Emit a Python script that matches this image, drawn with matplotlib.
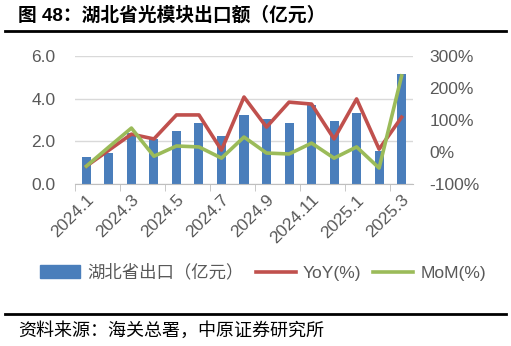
import numpy as np
import matplotlib
matplotlib.use("Agg")
import matplotlib.pyplot as plt
from matplotlib.lines import Line2D
from matplotlib.patches import Patch

plt.rcParams['font.family'] = ['Liberation Sans', 'Noto Sans CJK SC', 'DejaVu Sans']

# data
months = ['2024.1', '2024.2', '2024.3', '2024.4', '2024.5', '2024.6', '2024.7', '2024.8',
          '2024.9', '2024.10', '2024.11', '2024.12', '2025.1', '2025.2', '2025.3']
export_val = [1.27, 1.45, 2.4, 2.1, 2.5, 2.85, 2.25, 3.25, 3.05, 2.88, 3.7, 2.95, 3.35, 1.55, 5.15]
yoy = [-44, 6, 56, 41, 116, 116, 6, 172, 78, 156, 150, 41, 166, 9, 109]
mom = [-44, 16, 75, -13, 19, 16, -19, 47, -3, -6, 28, -19, 16, -50, 238]

blue = '#4A7EBB'
red = '#C0504D'
green = '#9BBB59'
grey = '#595959'
fs = 12.5

fig = plt.figure(figsize=(5.11, 3.46), dpi=100)
ax = fig.add_axes([0.147, 0.468, 0.661, 0.370])
x = np.arange(len(months))

ax.bar(x, export_val, width=0.4, color=blue, zorder=2)
ax.set_ylim(0, 6)
ax.set_yticks([0, 2, 4, 6])
ax.set_yticklabels(['0.0', '2.0', '4.0', '6.0'])
ax.set_xlim(-0.5, len(months) - 0.5)
ax.grid(axis='y', color='#D9D9D9', linewidth=1.0, zorder=0)
for s in ['top', 'left', 'right']:
    ax.spines[s].set_visible(False)
ax.spines['bottom'].set_color('#BFBFBF')
ax.tick_params(axis='y', length=0, labelsize=fs, labelcolor=grey, pad=14)

ax.set_xticks(x[::2])
ax.set_xticklabels(months[::2], rotation=45, ha='right', rotation_mode='anchor')
ax.set_xticks(np.arange(-0.5, len(months) - 1, 2), minor=True)
ax.tick_params(axis='x', which='major', length=0, labelsize=fs, labelcolor=grey, pad=6)
ax.tick_params(axis='x', which='minor', length=5, color='#BFBFBF')

ax2 = ax.twinx()
ax2.plot(x, yoy, color=red, linewidth=2.6, zorder=3)
ax2.plot(x, mom, color=green, linewidth=2.6, zorder=4)
ax2.set_ylim(-100, 300)
ax2.set_yticks([-100, 0, 100, 200, 300])
ax2.set_yticklabels([f'{v}%' for v in [-100, 0, 100, 200, 300]])
for s in ['top', 'left', 'right', 'bottom']:
    ax2.spines[s].set_visible(False)
ax2.tick_params(axis='y', length=0, labelsize=fs, labelcolor=grey, pad=12)

handles = [Patch(color=blue),
           Line2D([], [], color=red, linewidth=2.6),
           Line2D([], [], color=green, linewidth=2.6)]
fig.legend(handles, ['湖北省出口（亿元）', 'YoY(%)', 'MoM(%)'],
           loc='center', bbox_to_anchor=(0.515, 0.213), ncol=3, frameon=False,
           fontsize=fs, labelcolor=grey, handlelength=2.3, handletextpad=0.4,
           columnspacing=0.7)

fig.text(0.035, 0.955, '图 48：湖北省光模块出口额（亿元）', fontsize=13.5, fontweight='bold',
         va='center', ha='left', family=['Liberation Sans', 'Noto Sans CJK SC'])
fig.add_artist(Line2D([0.01, 0.99], [0.91, 0.91], color='black', linewidth=2.0))
fig.add_artist(Line2D([0.01, 0.99], [0.092, 0.092], color='black', linewidth=2.0))
fig.text(0.035, 0.045, '资料来源：海关总署，中原证券研究所', fontsize=13,
         va='center', ha='left', family=['Noto Sans CJK SC'])

fig.savefig('out.png', dpi=100)
